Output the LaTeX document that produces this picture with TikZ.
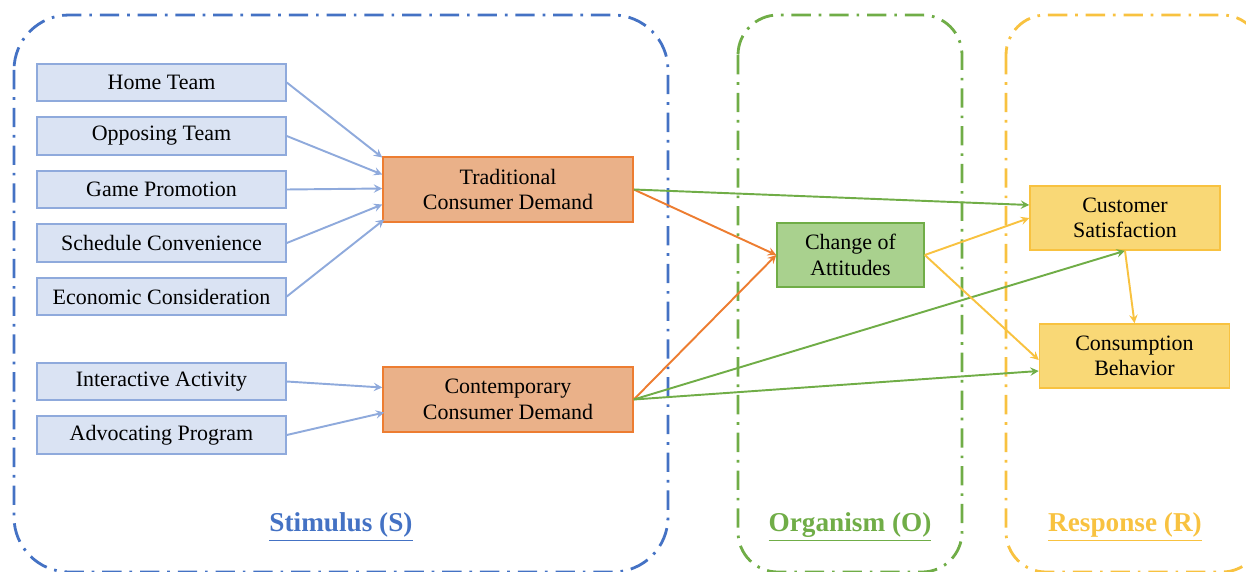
\documentclass[tikz,border=0pt]{standalone}
\usepackage{fontspec}
\setmainfont{Liberation Serif}
\usepackage{tikz}
\usetikzlibrary{arrows, positioning, calc}
\definecolor{sblue}{HTML}{4472C4}
\definecolor{fborder}{HTML}{8FAADC}
\definecolor{ffill}{HTML}{DAE3F3}
\definecolor{oborder}{HTML}{ED7D31}
\definecolor{ofill}{HTML}{EAB189}
\definecolor{ogreen}{HTML}{70AD47}
\definecolor{gfill}{HTML}{A9D18E}
\definecolor{ryellow}{HTML}{F8C240}
\definecolor{yfill}{HTML}{F9D876}
\tikzstyle{frame} = [line width=1.6pt, dash pattern=on 11pt off 4.5pt on 1.5pt off 4.5pt]
\tikzstyle{factor} = [rectangle, minimum width=4.98cm, minimum height=0.75cm, text centered, draw=fborder, fill=ffill, line width=0.9pt, font=\fontsize{12.5}{14.5}\selectfont]
\tikzstyle{demand} = [rectangle, minimum width=5cm, minimum height=1.3cm, align=center, draw=oborder, fill=ofill, line width=0.9pt, font=\fontsize{12.5}{14.5}\selectfont]
\tikzstyle{attitude} = [rectangle, minimum width=2.94cm, minimum height=1.28cm, align=center, draw=ogreen, fill=gfill, line width=0.9pt, font=\fontsize{12.5}{14.5}\selectfont]
\tikzstyle{outcome} = [rectangle, minimum width=3.8cm, minimum height=1.28cm, align=center, draw=ryellow, fill=yfill, line width=0.9pt, font=\fontsize{12.5}{14.5}\selectfont]
\tikzstyle{stage} = [font=\bfseries\fontsize{15.5}{18}\selectfont]
\tikzstyle{barrow} = [line width=1.1pt,->,>=stealth, draw=fborder, fill=fborder]
\tikzstyle{oarrow} = [line width=1.1pt,->,>=stealth, draw=oborder, fill=oborder]
\tikzstyle{garrow} = [line width=1.1pt,->,>=stealth, draw=ogreen, fill=ogreen]
\tikzstyle{yarrow} = [line width=1.1pt,->,>=stealth, draw=ryellow, fill=ryellow]

\begin{document}
\begin{tikzpicture}[x=0.02cm, y=-0.02cm]
    \useasboundingbox (0,0) rectangle (1246,571);
    % S-O-R frames
    \draw [frame, sblue, rounded corners=1.1cm] (14,15) rectangle (668,572);
    \draw [frame, ogreen, rounded corners=0.8cm] (738,15) rectangle (962,572);
    \draw [frame, ryellow, rounded corners=0.8cm] (1006,15) rectangle (1262,572);
    \node (lbls) at (341,527) [stage, text=sblue] {\underline{Stimulus (S)}};
    \node (lblo) at (850,527) [stage, text=ogreen] {\underline{Organism (O)}};
    \node (lblr) at (1125,527) [stage, text=ryellow] {\underline{Response (R)}};

    % Stimulus factors
    \node (home) [factor] at (161.5,82.5) {Home Team};
    \node (opp) [factor] at (161.5,136) {Opposing Team};
    \node (promo) [factor] at (161.5,189.5) {Game Promotion};
    \node (sched) [factor] at (161.5,243) {Schedule Convenience};
    \node (econ) [factor] at (161.5,296.5) {Economic Consideration};
    \node (inter) [factor] at (161.5,381.5) {Interactive Activity};
    \node (advo) [factor] at (161.5,435) {Advocating Program};

    % Demands
    \node (trad) [demand] at (508,189.5) {Traditional\\Consumer Demand};
    \node (cont) [demand] at (508,399.5) {Contemporary\\Consumer Demand};

    % Organism and response
    \node (att) [attitude] at (850.5,255) {Change of\\Attitudes};
    \node (sat) [outcome] at (1125,218) {Customer\\Satisfaction};
    \node (beh) [outcome] at (1134.5,356) {Consumption\\Behavior};

    % Factor arrows
    \draw [barrow] (home.east) -- ($(trad.west)+(0,-32)$);
    \draw [barrow] (opp.east) -- ($(trad.west)+(0,-15)$);
    \draw [barrow] (promo.east) -- ($(trad.west)+(0,-1)$);
    \draw [barrow] (sched.east) -- ($(trad.west)+(0,15)$);
    \draw [barrow] (econ.east) -- ($(trad.west)+(2,30)$);
    \draw [barrow] (inter.east) -- ($(cont.west)+(0,-12)$);
    \draw [barrow] (advo.east) -- ($(cont.west)+(2,13)$);

    % Demand arrows
    \draw [oarrow] (trad.east) -- (att.west);
    \draw [oarrow] (cont.east) -- (att.west);
    \draw [garrow] (trad.east) -- ($(sat.west)+(0,-13)$);
    \draw [garrow] (cont.east) -- (sat.south);
    \draw [garrow] (cont.east) -- ($(beh.west)+(0,15)$);

    % Response arrows
    \draw [yarrow] (att.east) -- (sat.west);
    \draw [yarrow] (att.east) -- ($(beh.west)+(0,4)$);
    \draw [yarrow] (sat.south) -- (beh.north);
\end{tikzpicture}
\end{document}
